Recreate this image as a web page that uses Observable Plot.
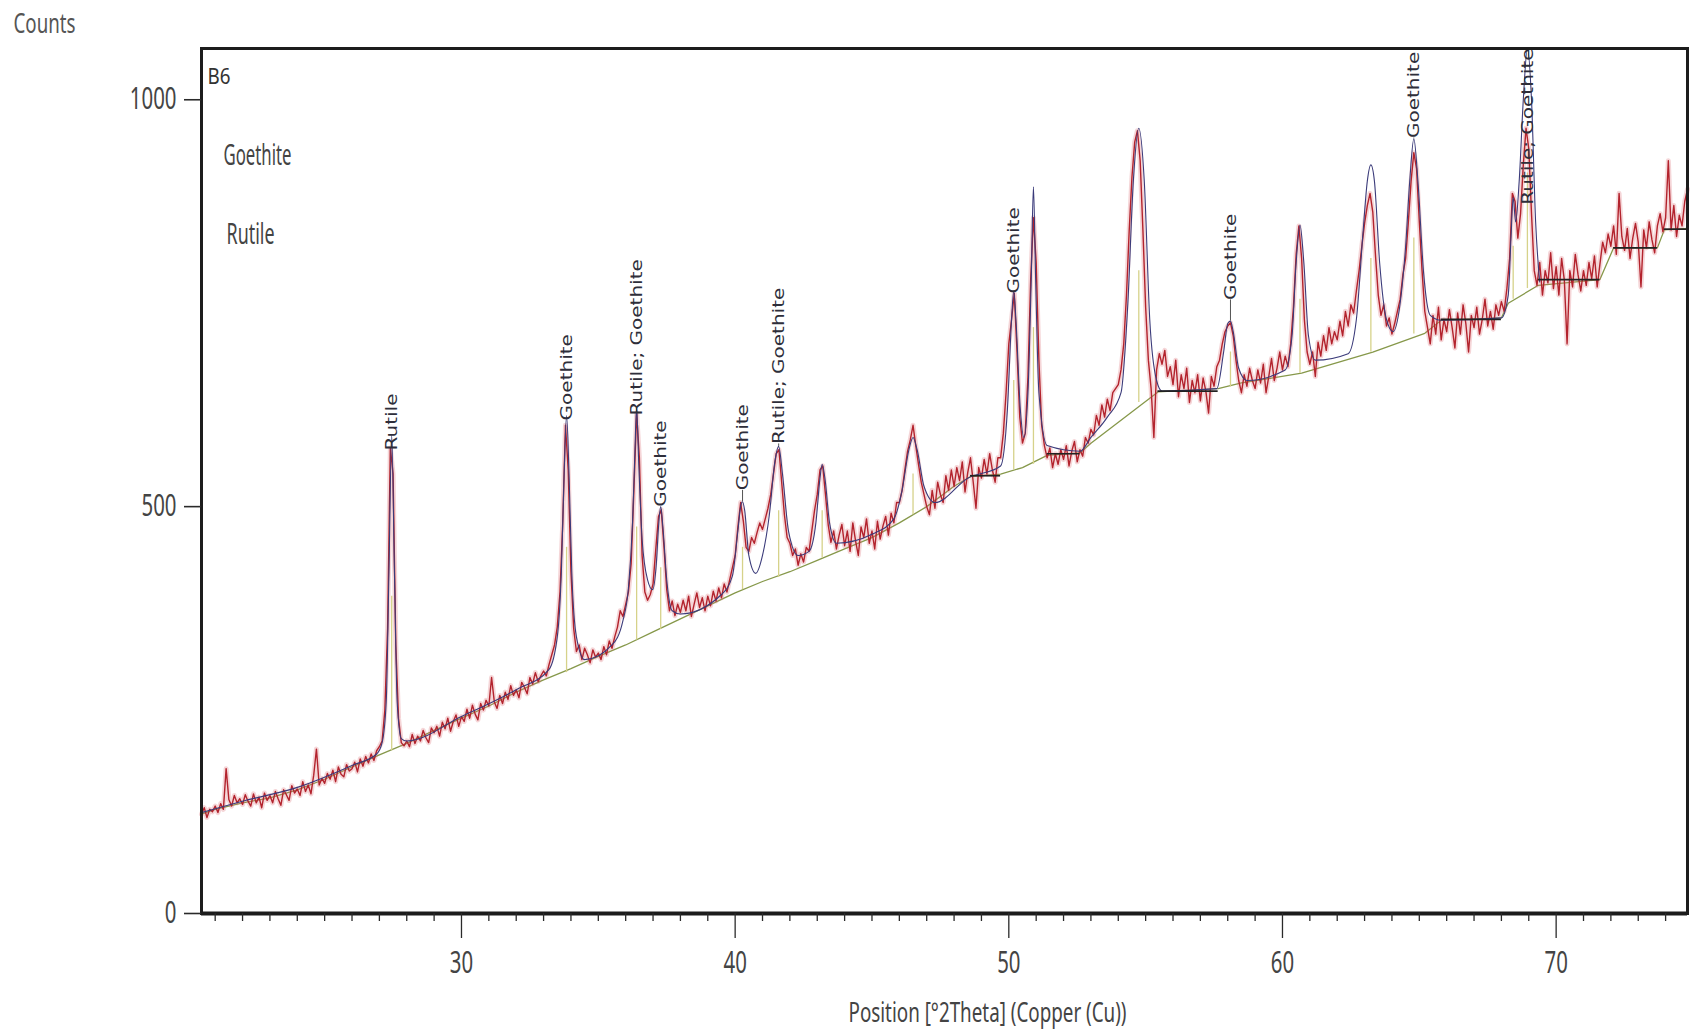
<!DOCTYPE html>
<html>
<head>
<meta charset="utf-8">
<script src="https://cdn.jsdelivr.net/npm/d3@7"></script>
<script src="https://cdn.jsdelivr.net/npm/@observablehq/plot@0.6"></script>
<style>
html, body { margin: 0; padding: 0; background: #fff; }
#chart { width: 1690px; height: 1032px; }
</style>
</head>
<body>
<div id="chart"></div>
<script>
// ---------- texts & ticks ----------
const yTitle = "Counts";
const xTitle = "Position [°2Theta] (Copper (Cu))";
const sampleName = "B6";
const phaseNames = ["Goethite", "Rutile"];
const yTicks = [0, 500, 1000];
const xMajorTicks = [30, 40, 50, 60, 70];
const xMinorTicks = [21,22,23,24,25,26,27,28,29,31,32,33,34,35,36,37,38,39,41,42,43,44,45,46,47,48,49,51,52,53,54,55,56,57,58,59,61,62,63,64,65,66,67,68,69,71,72,73,74];

// ---------- observed counts (red), measured every 0.1 °2θ from 20.5 ----------
const obsStart = 20.5;
const obsStep = 0.1;
const obsCounts = [
  122,130,118,128,125,
  132,124,135,128,178,140,132,145,136,141,
  134,146,138,132,147,136,143,130,148,139,
  145,136,150,141,133,152,146,139,157,148,
  153,145,162,150,158,147,170,202,158,166,
  160,172,165,176,162,180,171,168,183,175,
  178,186,174,190,181,193,185,196,188,200,
  205,212,250,350,572,540,330,240,210,206,
  212,205,220,209,218,212,225,216,210,228,
  222,230,218,235,227,240,224,236,244,230,
  242,236,251,240,256,245,238,258,250,262,
  255,290,260,252,268,258,272,263,280,268,
  275,265,284,278,270,290,282,296,285,292,
  298,292,306,318,330,352,395,480,600,545,
  420,350,322,330,312,326,318,308,324,315,
  320,312,328,318,335,326,340,352,372,365,
  380,395,430,520,615,560,440,395,385,392,
  405,448,488,496,450,398,372,384,366,380,
  370,385,372,390,365,380,394,376,388,372,
  390,378,396,384,400,388,405,395,410,425,
  440,475,505,482,450,445,462,455,468,480,
  472,485,498,515,540,565,570,530,490,462,
  455,440,448,428,442,432,450,445,470,495,
  515,545,550,515,478,456,470,448,465,478,
  452,470,445,480,458,440,475,462,485,455,
  470,448,482,460,476,488,465,492,480,505,
  505,520,545,568,582,600,575,552,530,515,
  500,490,520,498,530,515,505,538,520,545,
  525,548,532,555,518,542,560,530,498,548,
  535,558,540,565,545,530,560,560,590,640,
  700,730,762,690,610,578,590,660,780,855,
  800,680,600,575,560,572,548,565,552,570,
  558,575,550,568,580,555,570,562,585,578,
  595,588,612,600,625,610,632,618,640,645,
  650,668,700,760,840,905,948,962,925,840,
  745,680,645,585,668,688,675,692,660,672,
  650,680,635,662,645,670,628,655,640,662,
  630,658,642,615,660,648,672,680,700,715,
  722,726,710,680,655,640,662,648,670,655,
  645,668,652,675,640,660,682,655,670,690,
  668,685,672,700,745,810,845,805,730,690,
  675,690,660,702,685,710,692,720,700,715,
  705,728,710,740,722,748,738,765,790,820,
  848,870,885,862,808,760,735,748,722,732,
  712,725,740,755,785,805,850,900,935,915,
  850,790,740,720,700,735,712,745,705,730,
  715,742,720,695,738,712,748,725,690,735,
  720,745,712,730,755,722,740,718,748,735,
  752,740,768,805,885,875,830,860,920,965,
  940,860,790,772,800,760,790,775,812,768,
  795,760,805,778,700,790,770,810,785,765,
  790,772,800,780,808,770,798,825,812,835,
  820,845,810,885,832,815,842,805,830,848,
  825,770,840,818,850,828,812,845,860,838,
  855,925,840,870,832,858,845,875,890
];

// ---------- fitted profile (navy) ----------
const profileX = [20.5,22,24,26,26.9,27.1,27.25,27.35,27.45,27.55,27.65,27.8,28,30,32,33.2,33.5,33.65,33.75,33.84,33.93,34.03,34.2,34.5,35.5,35.9,36.1,36.25,36.33,36.4,36.47,36.6,36.8,36.98,37.12,37.2,37.28,37.36,37.5,37.7,38,39.5,39.9,40.1,40.2,40.27,40.35,40.5,40.75,41,41.25,41.45,41.59,41.73,41.95,42.3,42.7,42.95,43.1,43.18,43.28,43.45,43.7,45,45.8,46.1,46.35,46.5,46.65,46.9,47.3,48.5,49.7,49.95,50.1,50.18,50.26,50.42,50.55,50.7,50.82,50.9,50.98,51.1,51.4,52.6,53,53.6,54.1,54.35,54.55,54.75,54.95,55.15,55.4,55.6,57.6,57.85,58,58.1,58.2,58.4,58.7,60.1,60.35,60.5,60.64,60.78,60.95,61.2,62.4,62.7,62.95,63.1,63.23,63.36,63.55,63.8,64.04,64.3,64.5,64.65,64.8,64.95,65.15,65.4,65.8,68,68.25,68.35,68.43,68.52,68.65,68.8,68.95,69.1,69.25,69.4];
const profileY = [124,138,155,182,196,210,260,420,588,420,260,215,212,242,275,300,340,420,540,612,540,420,340,312,330,360,400,480,560,622,560,460,410,398,430,475,500,475,410,372,368,392,415,470,500,506,495,440,418,440,490,555,574,540,470,440,445,480,535,552,535,480,455,466,485,520,570,585,570,525,505,535,550,620,730,765,730,620,585,640,780,893,780,640,575,568,585,610,640,750,900,965,900,730,655,642,645,690,725,728,715,670,655,668,710,800,846,800,710,680,688,730,840,900,920,900,800,730,715,750,820,900,952,900,790,735,729,732,760,830,880,850,900,1000,1063,1000,850,776];

// ---------- background (green) and its flat (black) parts ----------
const bgX = [20.5,21,22,23,24,25,26,27,28,29,30,31,32,33,34,35,36,37,38,39,40,41,42,43,44,45,46,47,48,48.6,49.7,50.5,51.4,52.6,53,55.45,57.65,58.5,60.7,63.3,65.2,65.8,68,68.25,69.35,71.6,72.1,73.7,73.95,74.8];
const bgY = [122,128,136,142,152,165,180,195,209,225,240,255,272,287,301,316,330,346,362,378,394,408,420,434,448,462,480,500,525,537,540,548,563,566,578,641,645,652,664,690,713,729,732,750,772,779,818,818,840,842];
const flatX1 = [48.6, 51.4, 55.45, 65.8, 69.35, 72.1, 73.95];
const flatX2 = [49.7, 52.6, 57.65, 68.0, 71.6, 73.7, 74.8];
const flatY  = [538, 565, 642, 730, 779, 818, 841];

// ---------- peak markers ----------
const peakPos  = [27.45,33.84,36.4,37.28,40.27,41.59,43.18,46.5,50.18,50.9,54.75,58.1,60.64,63.23,64.8,68.43,68.95];
const peakBase = [200,296,336,349,398,413,437,490,545,552,628,647,664,690,712,755,768];
const peakHalf = [390,450,475,425,450,495,495,540,655,720,790,690,755,805,830,820,910];

// ---------- phase labels ----------
const labelPos  = [27.45,33.84,36.4,37.28,40.27,41.59,50.18,58.1,64.8,68.95];
const labelText = ["Rutile","Goethite","Rutile; Goethite","Goethite","Goethite","Rutile; Goethite","Goethite","Goethite","Goethite","Rutile; Goethite"];
const labelBase = [569,606,612,500,520,577,762,754,953,871];
const labelPeakTop = [588,612,622,500,506,574,765,728,952,1063];

// ---------- tables ----------
const obs = obsCounts.map((c, i) => ({t: Math.round((obsStart + i * obsStep) * 100) / 100, c}));
const profile = profileX.map((t, i) => ({t, c: profileY[i]}));
const bg = bgX.map((t, i) => ({t, c: bgY[i]}));
const flats = flatX1.map((x1, i) => ({x1, x2: flatX2[i], c: flatY[i]}));
const peaks = peakPos.map((t, i) => ({t, base: peakBase[i], half: peakHalf[i]}));
const labels = labelPos.map((t, i) => ({t, name: labelText[i], base: labelBase[i], top: labelPeakTop[i]}));
const labelLinks = labels.filter(d => d.top < d.base);

const ink = "#1c1c1c";
const textGray = "#444";

const chart = Plot.plot({
  width: 1690,
  height: 1032,
  marginLeft: 201,
  marginRight: 3,
  marginTop: 48,
  marginBottom: 119,
  style: {fontFamily: "'Noto Sans', sans-serif", background: "#fff", color: textGray},
  x: {domain: [20.5, 74.8]},
  y: {domain: [0, 1063]},
  marks: [
    Plot.line(bg, {x: "t", y: "c", stroke: "#86984a", strokeWidth: 1.3}),
    Plot.ruleX(peaks, {x: "t", y1: "base", y2: "half", stroke: "#d6d28a", strokeWidth: 1.3}),
    Plot.line(obs, {x: "t", y: "c", stroke: "#dc6a72", strokeWidth: 5, strokeOpacity: 0.28}),
    Plot.line(obs, {x: "t", y: "c", stroke: "#b3232d", strokeWidth: 1.4}),
    Plot.line(profile, {x: "t", y: "c", stroke: "#3b3b7a", strokeWidth: 1.1, curve: "monotone-x", clip: true}),
    Plot.ruleY(flats, {x1: "x1", x2: "x2", y: "c", stroke: "#222", strokeWidth: 1.7}),
    Plot.ruleX(labelLinks, {x: "t", y1: "top", y2: "base", stroke: "#555", strokeWidth: 1}),
    Plot.text(labels, {x: "t", y: "base", text: "name", rotate: -90, textAnchor: "start", lineAnchor: "middle",
      fontSize: 20, fontFamily: "'DejaVu Sans', sans-serif", fill: "#2e2e3a"}),
    Plot.frame({stroke: ink, strokeWidth: 3}),
    Plot.ruleY([0], {stroke: ink, strokeWidth: 4}),
    Plot.axisY({ticks: yTicks, tickFormat: d => String(d), tickSize: 17, tickPadding: 8, fontSize: 30, stroke: "#2a2a2a", strokeWidth: 1.6, label: null}),
    Plot.axisX({ticks: xMinorTicks, tickSize: 8, tickFormat: () => "", stroke: "#2a2a2a", strokeWidth: 1.3, label: null}),
    Plot.axisX({ticks: xMajorTicks, tickFormat: d => String(d), tickSize: 25, tickPadding: 13, fontSize: 30, stroke: "#2a2a2a", strokeWidth: 1.3, label: null}),
    Plot.text([yTitle], {text: d => d, frameAnchor: "top-left", textAnchor: "start", lineAnchor: "middle", dx: -188, dy: -24, fontSize: 28, fill: "#555"}),
    Plot.text([xTitle], {text: d => d, frameAnchor: "bottom", textAnchor: "middle", lineAnchor: "middle", dx: 43, dy: 100, fontSize: 28, fill: textGray}),
    Plot.text([sampleName], {text: d => d, frameAnchor: "top-left", textAnchor: "start", lineAnchor: "middle", dx: 6, dy: 28, fontSize: 22, fill: "#333"}),
    Plot.text([phaseNames[0]], {text: d => d, frameAnchor: "top-left", textAnchor: "start", lineAnchor: "middle", dx: 22, dy: 107, fontSize: 29, fill: textGray}),
    Plot.text([phaseNames[1]], {text: d => d, frameAnchor: "top-left", textAnchor: "start", lineAnchor: "middle", dx: 25, dy: 186, fontSize: 29, fill: textGray})
  ]
});

document.getElementById("chart").append(chart);

// condensed look of the original lettering
const targetWidths = {};
targetWidths[yTitle] = 62;
targetWidths[xTitle] = 278;
targetWidths[sampleName] = 23;
targetWidths[phaseNames[0]] = 68;
targetWidths[phaseNames[1]] = 48;
chart.querySelectorAll("text").forEach(t => {
  const s = t.textContent;
  if (!s) return;
  const tr = t.getAttribute("transform") || "";
  if (tr.includes("rotate")) {
    t.setAttribute("transform", tr + " scale(1,0.8)");
    return;
  }
  const w = t.getComputedTextLength();
  const target = targetWidths[s] !== undefined ? targetWidths[s] : w * 0.68;
  t.setAttribute("textLength", target);
  t.setAttribute("lengthAdjust", "spacingAndGlyphs");
});
</script>
</body>
</html>
